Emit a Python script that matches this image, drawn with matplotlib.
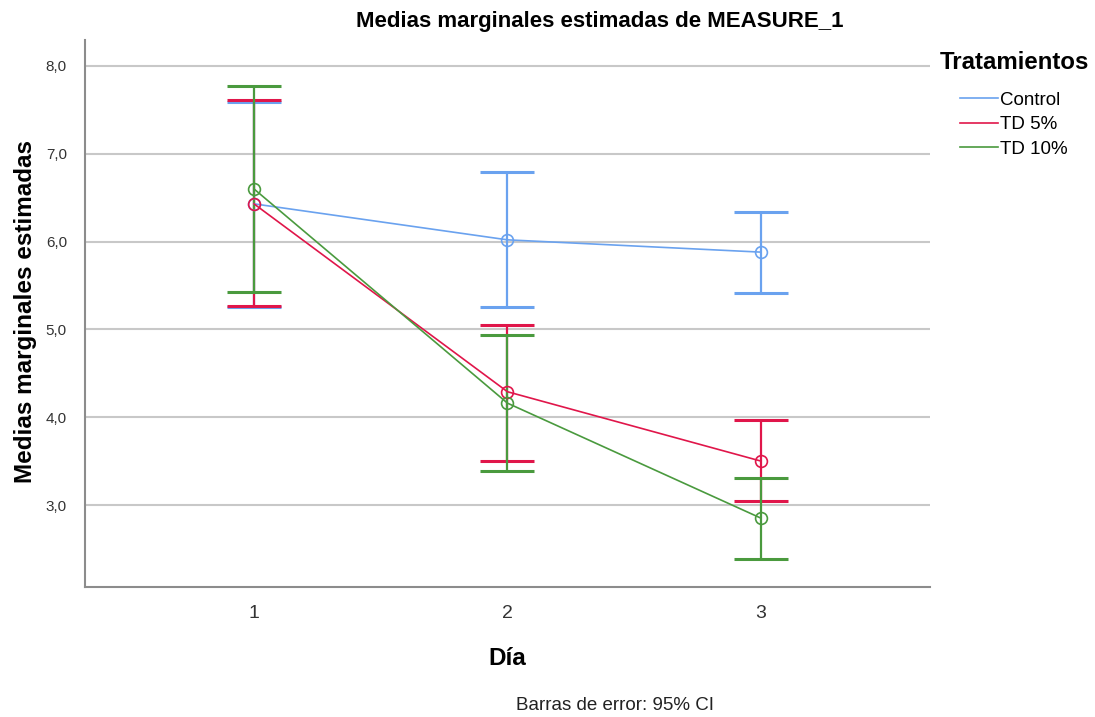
import numpy as np
import matplotlib
matplotlib.use('Agg')
import matplotlib.pyplot as plt
from matplotlib.lines import Line2D
from matplotlib.ticker import FuncFormatter

plt.rcParams['font.family'] = ['Liberation Sans', 'DejaVu Sans']

dias = [1, 2, 3]
grupos = ['Control', 'TD 5%', 'TD 10%']
colores = ['#6aa2ef', '#e0164a', '#4a9a3e']

# medias y límites del IC 95%
medias = {
    'Control': [6.43, 6.02, 5.88],
    'TD 5%': [6.43, 4.29, 3.50],
    'TD 10%': [6.60, 4.16, 2.85],
}
ic_inf = {
    'Control': [5.25, 5.25, 5.41],
    'TD 5%': [5.27, 3.50, 3.05],
    'TD 10%': [5.43, 3.39, 2.39],
}
ic_sup = {
    'Control': [7.59, 6.79, 6.34],
    'TD 5%': [7.61, 5.05, 3.97],
    'TD 10%': [7.77, 4.94, 3.31],
}

fig = plt.figure(figsize=(10.95, 7.17), dpi=100)
ax = fig.add_axes([0.0776, 0.1813, 0.7717, 0.7629])

for g, c in zip(grupos, colores):
    m = np.array(medias[g])
    lo = m - np.array(ic_inf[g])
    hi = np.array(ic_sup[g]) - m
    ax.errorbar(dias, m, yerr=[lo, hi], fmt='none', ecolor=c, elinewidth=1.6,
                capsize=19.5, capthick=2.2, zorder=3)
    ax.plot(dias, m, color=c, lw=1.2, marker='o', ms=8.5, mfc='none',
            mec=c, mew=1.2, zorder=4)

ax.set_xlim(1 / 3, 11 / 3)
ax.set_ylim(2.066, 8.296)
ax.set_xticks(dias)
ax.set_yticks([3, 4, 5, 6, 7, 8])
ax.yaxis.set_major_formatter(FuncFormatter(lambda v, p: f'{v:.1f}'.replace('.', ',')))
ax.tick_params(axis='both', length=0, colors='#333333')
ax.tick_params(axis='y', labelsize=11, pad=13)
ax.tick_params(axis='x', labelsize=14, pad=13)
ax.grid(axis='y', color='#c8c8c8', lw=1.5, zorder=0)
ax.set_axisbelow(True)

for s in ['top', 'right']:
    ax.spines[s].set_visible(False)
for s in ['left', 'bottom']:
    ax.spines[s].set_color('#8c8c8c')
    ax.spines[s].set_linewidth(1.5)

fig.text(0.548, 0.970, 'Medias marginales estimadas de MEASURE_1', fontsize=16,
         fontweight='bold', ha='center', va='center')
fig.text(0.023, 0.565, 'Medias marginales estimadas', fontsize=17.5,
         fontweight='bold', rotation=90, ha='center', va='center')
fig.text(0.463, 0.082, 'Día', fontsize=17.5, fontweight='bold',
         ha='center', va='center')

fig.text(0.858, 0.913, 'Tratamientos', fontsize=17.3, fontweight='bold', va='center')
handles = [Line2D([0], [0], color=c, lw=1.2) for c in colores]
fig.legend(handles, grupos, loc='upper left', bbox_to_anchor=(0.877, 0.872),
           frameon=False, fontsize=13.5, handlelength=2.0, handletextpad=0.1,
           labelspacing=0.39, borderaxespad=0, borderpad=0)

fig.text(0.5616, 0.0167, 'Barras de error: 95% CI', fontsize=13.5, ha='center',
         va='center', color='#222222')

fig.savefig('out.png', dpi=100)
